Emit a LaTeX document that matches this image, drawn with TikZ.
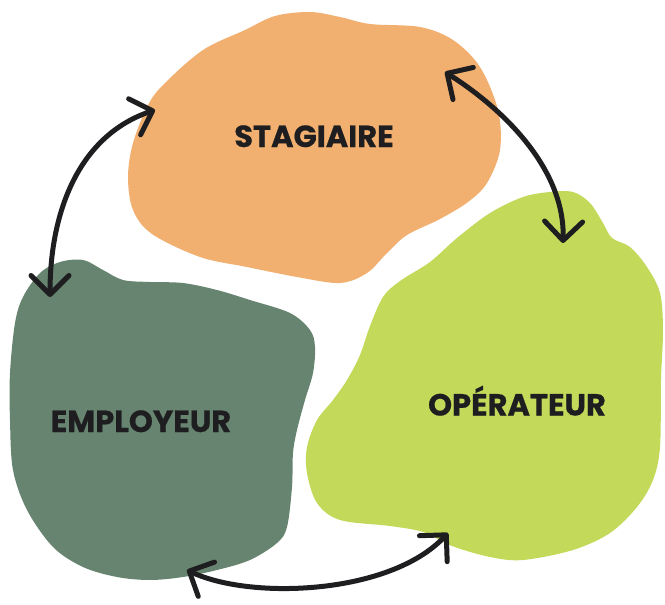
\documentclass[tikz,border=0pt]{standalone}
\usepackage{fontspec}
\newfontfamily\labfont{Poppins}[BoldFeatures={FakeBold=0.6}]
\usetikzlibrary{arrows.meta}
\definecolor{orangeblob}{RGB}{241,175,112}
\definecolor{darkblob}{RGB}{103,132,113}
\definecolor{lightblob}{RGB}{195,217,90}
\definecolor{ink}{RGB}{30,30,32}
\tikzset{
  blob/.style={draw=none},
  lab/.style={font=\labfont\bfseries\fontsize{30.5}{34}\selectfont, text=ink, inner sep=0pt, anchor=base},
  link/.style={line width=5pt, draw=ink, line cap=round, line join=round,
    {Straight Barb[length=19pt,width=38pt,line cap=round,line join=round]}-{Straight Barb[length=19pt,width=38pt,line cap=round,line join=round]}}
}
\begin{document}
\begin{tikzpicture}[x=1pt,y=-1pt]
\useasboundingbox (0,0) rectangle (665,605);
% orange blob
\fill[orangeblob, blob] plot[smooth cycle, tension=0.55] coordinates {
 (245,30) (275,16) (310,12) (340,17) (370,24) (420,27) (453,40) (480,67)
 (498,110) (500,150)
 (487,183) (468,202) (440,219) (407,235) (387,253) (367,273) (340,283)
 (297,277) (247,267) (200,257) (152,234) (133,210) (128,177) (133,143)
 (148,105) (165,83) (203,50)};
% light green blob
\fill[lightblob, blob] plot[smooth cycle, tension=0.55] coordinates {
 (523,197) (550,192) (573,192) (590,203) (603,223) (612,238) (630,247)
 (647,267) (660,293) (663,330) (661,380) (660,447) (653,480) (637,507)
 (610,533) (573,550) (523,560) (490,557) (452,546) (423,532) (390,526)
 (340,520) (317,503) (307,473) (307,447) (317,420) (333,400) (347,380)
 (360,355) (370,326) (383,297) (400,281) (430,262) (457,238) (490,213)};
% dark green blob
\fill[darkblob, blob] plot[smooth cycle, tension=0.55] coordinates {
 (60,262) (83,260) (103,270) (123,280) (150,282) (183,283) (217,290)
 (250,300) (290,313) (310,330) (315,347) (313,373) (305,400) (297,430)
 (293,453) (292,487) (287,527) (277,543) (250,560) (217,570) (183,577)
 (150,580) (117,577) (83,567) (53,547) (27,510) (13,470) (10,420)
 (10,373) (15,323) (23,297) (40,273)};
% labels
\node[lab] (stag) at (314,147) {STAGIAIRE};
\node[lab] (oper) at (517,415.5) {OPÉRATEUR};
\node[lab] (empl) at (141,432) {EMPLOYEUR};
% arrow end points
\coordinate (s1) at (50,297);
\coordinate (s2) at (155,110);
\coordinate (o1) at (445,72);
\coordinate (o2) at (563,243);
\coordinate (e1) at (187,570);
\coordinate (e2) at (448,533);
\draw[link] (s1) .. controls (50,210) and (80,135) .. (s2);
\draw[link] (o1) .. controls (505,110) and (565,170) .. (o2);
\draw[link] (e1) .. controls (250,600) and (390,595) .. (e2);
\end{tikzpicture}
\end{document}
